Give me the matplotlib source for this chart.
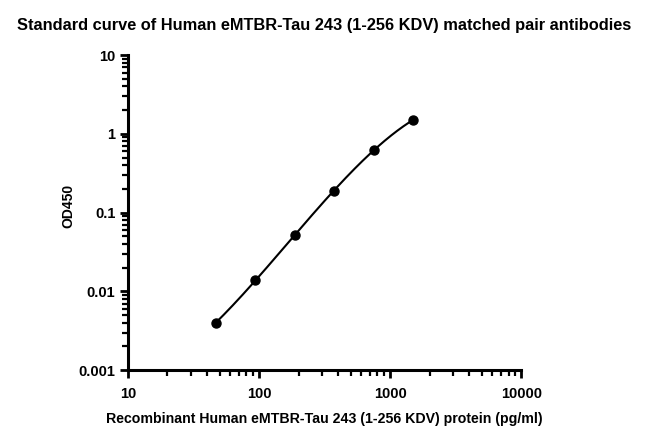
import numpy as np
import matplotlib
matplotlib.use("Agg")
import matplotlib.pyplot as plt
from matplotlib.ticker import LogLocator, FixedLocator, NullFormatter


# ==========================================================
# Data

conc = [46.875, 93.75, 187.5, 375, 750, 1500]
od450 = [0.0040, 0.0139, 0.052, 0.190, 0.63, 1.50]

x_ticks = [10, 100, 1000, 10000]
x_tick_labels = ["10", "100", "1000", "10000"]
y_ticks = [0.001, 0.01, 0.1, 1, 10]
y_tick_labels = ["0.001", "0.01", "0.1", "1", "10"]


# ==========================================================
# Plot

plt.rcParams["font.family"] = ["Liberation Sans", "DejaVu Sans"]
plt.rcParams["font.weight"] = "bold"

fig = plt.figure(figsize=(6.48, 4.37), dpi=100)
ax = fig.add_axes([0.1975, 0.153, 0.607, 0.721])

# smooth fitted curve (cubic in log-log space)
lx = np.log10(conc)
ly = np.log10(od450)
coef = np.polyfit(lx, ly, 3)
xs = np.linspace(lx[0], lx[-1], 200)
ax.plot(10 ** xs, 10 ** np.polyval(coef, xs), color="black", lw=1.5, zorder=2)

ax.plot(conc, od450, "o", color="black", ms=6.5, zorder=3)

ax.set_xscale("log")
ax.set_yscale("log")
ax.set_xlim(10, 10000)
ax.set_ylim(0.001, 10)

ax.xaxis.set_major_locator(FixedLocator(x_ticks))
ax.set_xticklabels(x_tick_labels)
ax.yaxis.set_major_locator(FixedLocator(y_ticks))
ax.set_yticklabels(y_tick_labels)
ax.xaxis.set_minor_locator(LogLocator(base=10, subs=np.arange(2, 10)))
ax.yaxis.set_minor_locator(LogLocator(base=10, subs=np.arange(2, 10)))
ax.xaxis.set_minor_formatter(NullFormatter())
ax.yaxis.set_minor_formatter(NullFormatter())

for side in ["top", "right"]:
    ax.spines[side].set_visible(False)
for side in ["left", "bottom"]:
    ax.spines[side].set_linewidth(2.2)

ax.tick_params(which="major", direction="out", length=6, width=2,
               labelsize=10.5)
ax.tick_params(axis="x", which="major", pad=6)
ax.tick_params(axis="y", which="major", pad=3)
ax.tick_params(which="minor", direction="out", length=4, width=1.6)

for lab in ax.get_xticklabels() + ax.get_yticklabels():
    lab.set_fontweight("bold")

ax.set_xlabel("Recombinant Human eMTBR-Tau 243 (1-256 KDV) protein (pg/ml)",
              fontsize=10.2, fontweight="bold", labelpad=8)
ax.set_ylabel("OD450", fontsize=10, fontweight="bold")
ax.yaxis.set_label_coords(-0.135, 0.52)

fig.suptitle("Standard curve of Human eMTBR-Tau 243 (1-256 KDV) matched pair antibodies",
             x=0.5, y=0.958, fontsize=11.8, fontweight="bold")

fig.savefig("out.png", dpi=100)
